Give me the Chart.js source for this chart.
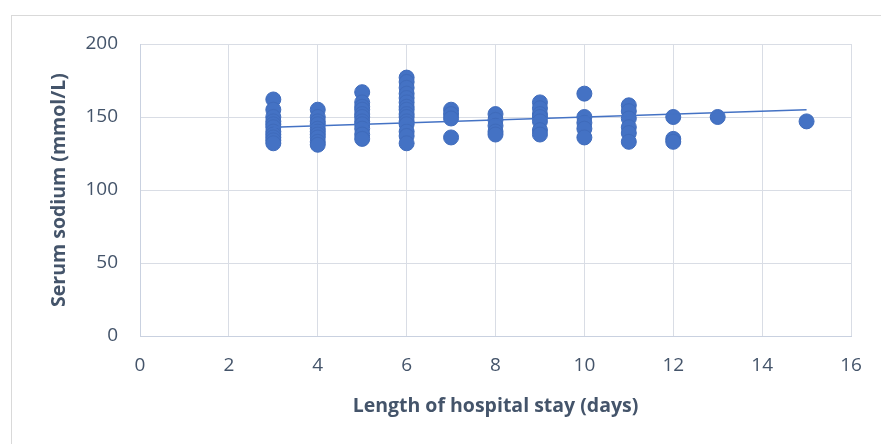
<!DOCTYPE html>
<html>
<head>
<meta charset="utf-8">
<script src="https://cdn.jsdelivr.net/npm/chart.js@4"></script>
<style>
  html, body { margin: 0; padding: 0; background: #fff; }
  #wrap { position: relative; width: 881px; height: 444px; }
  #frame { position: absolute; left: 11px; top: 15px; right: -2px; bottom: -2px; border: 1px solid #d9d9d9; }
  canvas { position: absolute; left: 0; top: 0; }
</style>
</head>
<body>
<div id="wrap">
  <div id="frame"></div>
  <canvas id="scatterChart" width="881" height="444"></canvas>
</div>
<script>
// Length of stay (days) and serum sodium (mmol/L), one pair per patient
const stayDays = [
  3, 3, 3, 3, 3, 3, 3, 3, 3, 3, 3,
  4, 4, 4, 4, 4, 4, 4, 4, 4, 4,
  5, 5, 5, 5, 5, 5, 5, 5, 5, 5, 5,
  6, 6, 6, 6, 6, 6, 6, 6, 6, 6, 6, 6, 6, 6, 6,
  7, 7, 7, 7,
  8, 8, 8, 8, 8,
  9, 9, 9, 9, 9, 9, 9,
  10, 10, 10, 10, 10,
  11, 11, 11, 11, 11, 11,
  12, 12, 12,
  13,
  15
];
const sodium = [
  162, 155, 150, 147, 145, 143, 140, 138, 136, 134, 132,
  155, 150, 147, 145, 142, 140, 138, 136, 133, 131,
  167, 160, 157, 155, 152, 150, 147, 145, 142, 138, 135,
  177, 174, 170, 166, 163, 160, 157, 155, 152, 150, 147, 145, 140, 137, 132,
  155, 152, 149, 136,
  152, 148, 144, 140, 138,
  160, 156, 152, 150, 147, 141, 138,
  166, 150, 146, 142, 136,
  158, 154, 149, 143, 139, 133,
  150, 135, 133,
  150,
  147
];

// linear trendline end points
const trendX = [3, 15];
const trendY = [143, 155];

const xTicks = [0, 2, 4, 6, 8, 10, 12, 14, 16];
const yTicks = [0, 50, 100, 150, 200];

const textColor = '#44546a';
const gridColor = '#d9dde5';
const pointColor = '#4472c4';
const fontFamily = '"Open Sans", sans-serif';

const ctx = document.getElementById('scatterChart');

new Chart(ctx, {
    type: 'scatter',
    data: {
        datasets: [{
            label: 'Serum sodium',
            data: stayDays.map((d, i) => ({ x: d, y: sodium[i] })),
            backgroundColor: pointColor,
            borderColor: '#3f6bbb',
            borderWidth: 1,
            pointRadius: 7.5,
            order: 2
        }, {
            label: 'Linear trend',
            type: 'line',
            data: trendX.map((d, i) => ({ x: d, y: trendY[i] })),
            borderColor: pointColor,
            borderWidth: 1.5,
            pointRadius: 0,
            fill: false,
            order: 1
        }]
    },
    options: {
        responsive: false,
        animation: false,
        layout: {
            padding: { top: 44, right: 30, bottom: 0, left: 0 }
        },
        plugins: {
            legend: { display: false },
            tooltip: { enabled: false }
        },
        scales: {
            x: {
                type: 'linear',
                min: 0,
                max: 16,
                afterBuildTicks: (scale) => { scale.ticks = xTicks.map(v => ({ value: v })); },
                afterFit: (scale) => { scale.height = 108; },
                ticks: {
                    color: textColor,
                    font: { family: fontFamily, size: 19 },
                    padding: 18,
                    maxRotation: 0
                },
                grid: { color: gridColor, lineWidth: 1, drawTicks: false },
                border: { color: '#c9d1e0' },
                title: {
                    display: true,
                    text: 'Length of hospital stay (days)',
                    color: textColor,
                    font: { family: fontFamily, size: 19.5, weight: 'bold' },
                    padding: { top: 0, bottom: 26 }
                }
            },
            y: {
                min: 0,
                max: 200,
                afterBuildTicks: (scale) => { scale.ticks = yTicks.map(v => ({ value: v })); },
                afterFit: (scale) => { scale.width = 140; },
                ticks: {
                    color: textColor,
                    font: { family: fontFamily, size: 19 },
                    padding: 22
                },
                grid: { color: gridColor, lineWidth: 1, drawTicks: false },
                border: { color: '#c9d1e0' },
                title: {
                    display: true,
                    text: 'Serum sodium (mmol/L)',
                    color: textColor,
                    font: { family: fontFamily, size: 19.5, weight: 'bold' },
                    padding: { top: 48, bottom: 0 }
                }
            }
        }
    }
});
</script>
</body>
</html>
